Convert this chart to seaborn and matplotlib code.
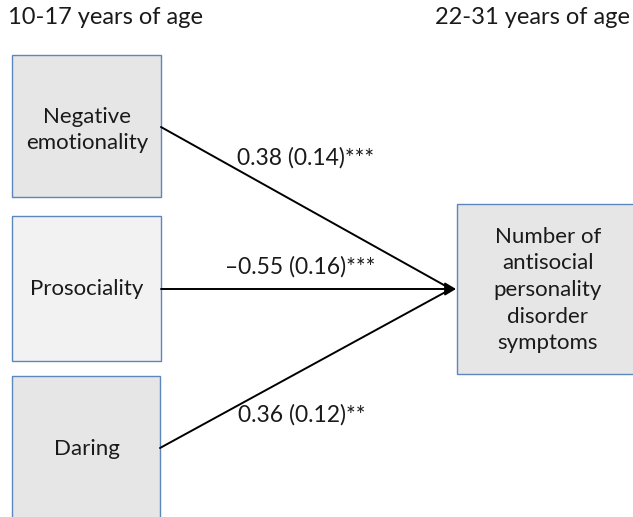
import matplotlib
matplotlib.use("Agg")
import matplotlib.pyplot as plt
import seaborn as sns
import pandas as pd
from matplotlib.patches import Rectangle

# ---- data ----
predictors = ["Negative\nemotionality", "Prosociality", "Daring"]
coefficients = ["0.38", "\u20130.55", "0.36"]
std_errors = ["0.14", "0.16", "0.12"]
stars = ["***", "***", "**"]
outcome = "Number of\nantisocial\npersonality\ndisorder\nsymptoms"
left_title = "10-17 years of age"
right_title = "22-31 years of age"

sns.set_theme(style="white")
plt.rcParams["font.family"] = ["Lato", "DejaVu Sans"]

W, H = 633, 517
fig = plt.figure(figsize=(W / 100, H / 100), dpi=100)
ax = fig.add_axes([0, 0, 1, 1])

edge = "#5b87bd"
txt = "#1a1a1a"
fills = ["#e6e6e6", "#f2f2f2", "#e6e6e6"]
boxes = [(12, 55, 149, 142), (12, 216, 149, 145), (12, 376, 148, 150)]
text_centers = [(87, 130), (87, 289), (87, 449)]
starts = [(161, 127), (161, 289), (160, 448)]
label_pos = [(306, 158), (300, 267), (302, 415)]
target = (456, 289)

# paths via seaborn
rows = []
for i, (sx, sy) in enumerate(starts):
    rows.append({"path": i, "x": sx, "y": sy})
    rows.append({"path": i, "x": target[0] - 5, "y": target[1]})
df = pd.DataFrame(rows)
sns.lineplot(data=df, x="x", y="y", units="path", estimator=None, color="black",
             lw=1.4, ax=ax, legend=False, sort=False)

ax.set_xlim(0, W)
ax.set_ylim(H, 0)
ax.axis("off")

ax.text(8, 17, left_title, fontsize=17, ha="left", va="center", color=txt)
ax.text(630, 17, right_title, fontsize=17, ha="right", va="center", color=txt)

for name, (x, y, w, h), fc, (cx, cy) in zip(predictors, boxes, fills, text_centers):
    ax.add_patch(Rectangle((x, y), w, h, facecolor=fc, edgecolor=edge, lw=1.0))
    ax.text(cx, cy, name, fontsize=16, ha="center", va="center",
            color=txt, linespacing=1.42)

# outcome box
ax.add_patch(Rectangle((457, 204), 180, 170, facecolor="#e6e6e6", edgecolor=edge, lw=1.0))
ax.text(548, 290, outcome, fontsize=16, ha="center", va="center",
        color=txt, linespacing=1.42)

# arrowhead
ax.annotate("", xy=target, xytext=(target[0] - 10, target[1]),
            arrowprops=dict(arrowstyle="-|>,head_length=0.5,head_width=0.3",
                            mutation_scale=13, color="black", lw=1.4,
                            shrinkA=0, shrinkB=0),
            annotation_clip=False, zorder=5)

for c, se, st, (lx, ly) in zip(coefficients, std_errors, stars, label_pos):
    ax.text(lx, ly, f"{c} ({se}){st}", fontsize=16.5, ha="center", va="center",
            color=txt)

fig.savefig("out.png", dpi=100)
